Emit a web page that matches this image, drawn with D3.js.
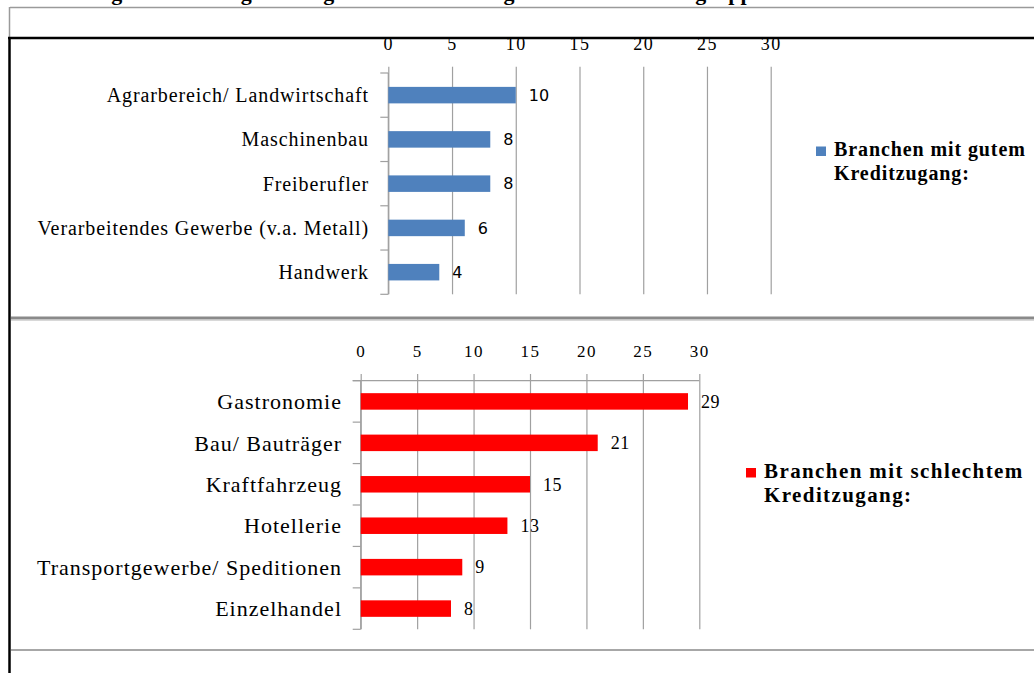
<!DOCTYPE html>
<html>
<head>
<meta charset="utf-8">
<script src="https://cdn.jsdelivr.net/npm/d3@7"></script>
<style>
  body { margin: 0; background: #fff; }
  svg { display: block; }
  .cat { font-family: "Liberation Serif", "Times New Roman", serif; fill: #000; }
  .legend text { font-family: "Liberation Serif", "Times New Roman", serif; font-weight: bold; fill: #000; }
</style>
</head>
<body>
<div id="chart"></div>
<script>
// data
var goodCats = ["Agrarbereich/ Landwirtschaft", "Maschinenbau", "Freiberufler",
                "Verarbeitendes Gewerbe (v.a. Metall)", "Handwerk"];
var goodVals = [10, 8, 8, 6, 4];

var badCats = ["Gastronomie", "Bau/ Bauträger", "Kraftfahrzeug", "Hotellerie",
               "Transportgewerbe/ Speditionen", "Einzelhandel"];
var badVals = [29, 21, 15, 13, 9, 8];

var xTicks = [0, 5, 10, 15, 20, 25, 30];

var legendGood = ["Branchen mit gutem", "Kreditzugang:"];
var legendBad = ["Branchen mit schlechtem", "Kreditzugang:"];

// caption above the frame, only its lower edge is in view
var caption = "Abbildung 3: Erfahrungen bezüglich der Kreditvergabe nach Branchengruppen aus Sicht der Interviewten";

var width = 1034, height = 673;

var svg = d3.select("#chart").append("svg")
    .attr("width", width)
    .attr("height", height);

svg.append("rect").attr("width", width).attr("height", height).attr("fill", "#fff");

// caption, cut off at the top edge like in the scan
svg.append("text")
    .attr("x", 22)
    .attr("y", -0.5)
    .attr("font-family", "Liberation Serif, serif")
    .attr("font-weight", "bold")
    .attr("font-size", 22)
    .text(caption);

// frame lines (table borders)
svg.append("line").attr("x1", 10).attr("x2", width).attr("y1", 7.5).attr("y2", 7.5)
    .attr("stroke", "#9a9a9a").attr("stroke-width", 1.5);
svg.append("line").attr("x1", 9.5).attr("x2", 9.5).attr("y1", 7).attr("y2", 38)
    .attr("stroke", "#9a9a9a").attr("stroke-width", 1.5);
svg.append("line").attr("x1", 8).attr("x2", width).attr("y1", 38).attr("y2", 38)
    .attr("stroke", "#000").attr("stroke-width", 2.5);
svg.append("line").attr("x1", 9.5).attr("x2", 9.5).attr("y1", 37).attr("y2", height)
    .attr("stroke", "#000").attr("stroke-width", 2.5);
svg.append("line").attr("x1", 11).attr("x2", width).attr("y1", 318).attr("y2", 318)
    .attr("stroke", "#8a8a8a").attr("stroke-width", 3);
svg.append("line").attr("x1", 11).attr("x2", width).attr("y1", 320.5).attr("y2", 320.5)
    .attr("stroke", "#d8d8d8").attr("stroke-width", 1);
svg.append("line").attr("x1", 11).attr("x2", width).attr("y1", 650).attr("y2", 650)
    .attr("stroke", "#8a8a8a").attr("stroke-width", 1.5);

function drawChart(o) {
  var g = svg.append("g");

  var x = d3.scaleLinear().domain([0, 30]).range([o.x0, o.x1]);
  var y = d3.scaleBand().domain(o.cats).range([o.top, o.bottom]);

  // vertical gridlines
  var grid = g.append("g")
      .attr("transform", "translate(0," + o.gridTop + ")")
      .call(d3.axisBottom(x).tickValues(xTicks).tickSize(o.bottom - o.gridTop).tickFormat(""));
  grid.select(".domain").remove();
  grid.selectAll("line").attr("stroke", "#a0a0a0").attr("stroke-width", 1.2);

  // top axis line (only in the lower chart)
  if (o.topLine) {
    g.append("line")
        .attr("x1", o.x0 - 8).attr("x2", o.x1)
        .attr("y1", o.top).attr("y2", o.top)
        .attr("stroke", "#a0a0a0").attr("stroke-width", 1.2);
  }

  // value tick labels above
  var ax = g.append("g")
      .attr("transform", "translate(0," + o.tickY + ")")
      .call(d3.axisTop(x).tickValues(xTicks).tickSize(0).tickPadding(0));
  ax.select(".domain").remove();
  ax.selectAll("text")
      .attr("y", 0)
      .attr("dy", "0.35em")
      .attr("font-family", "Liberation Serif, serif")
      .attr("font-size", o.tickSize)
      .attr("letter-spacing", 1.5)
      .attr("fill", "#000");

  // category axis line with ticks at band edges
  g.append("line")
      .attr("x1", o.x0).attr("x2", o.x0)
      .attr("y1", o.top).attr("y2", o.bottom)
      .attr("stroke", "#a0a0a0").attr("stroke-width", 1.2);
  g.selectAll(".ctick")
      .data(d3.range(o.cats.length + 1))
      .enter().append("line")
      .attr("x1", o.x0 - 8).attr("x2", o.x0)
      .attr("y1", function(i) { return o.top + i * y.step(); })
      .attr("y2", function(i) { return o.top + i * y.step(); })
      .attr("stroke", "#a0a0a0").attr("stroke-width", 1.2);

  // bars
  g.selectAll(".bar")
      .data(o.vals)
      .enter().append("rect")
      .attr("x", x(0))
      .attr("y", function(d, i) { return y(o.cats[i]) + y.bandwidth() / 2 - o.barH / 2; })
      .attr("width", function(d) { return x(d) - x(0); })
      .attr("height", o.barH)
      .attr("fill", o.color);

  // value labels
  g.selectAll(".val")
      .data(o.vals)
      .enter().append("text")
      .attr("x", function(d) { return x(d) + 13; })
      .attr("y", function(d, i) { return y(o.cats[i]) + y.bandwidth() / 2; })
      .attr("dy", "0.35em")
      .attr("font-family", o.valFont)
      .attr("font-size", o.valSize)
      .attr("letter-spacing", o.valSpacing)
      .attr("fill", "#000")
      .text(function(d) { return d; });

  // category labels
  g.selectAll(".cat")
      .data(o.cats)
      .enter().append("text")
      .attr("class", "cat")
      .attr("x", o.labelX)
      .attr("y", function(d) { return y(d) + y.bandwidth() / 2; })
      .attr("dy", "0.35em")
      .attr("text-anchor", "end")
      .attr("font-size", o.catSize)
      .attr("letter-spacing", o.catSpacing)
      .text(function(d) { return d; });

  // legend
  var lg = g.append("g").attr("class", "legend");
  lg.append("rect")
      .attr("x", o.legX).attr("y", o.legY - 9.5)
      .attr("width", 10).attr("height", 9.5)
      .attr("fill", o.color);
  lg.selectAll("text")
      .data(o.legend)
      .enter().append("text")
      .attr("x", o.legX + 18)
      .attr("y", function(d, i) { return o.legY + i * 24; })
      .attr("font-size", o.legSize)
      .attr("letter-spacing", o.legSpacing)
      .text(function(d) { return d; });
}

drawChart({
  cats: goodCats, vals: goodVals, color: "#4f81bd",
  x0: 388.3, x1: 770.7, top: 73, bottom: 294.3, gridTop: 66.7,
  tickY: 44, tickSize: 18, barH: 16.5,
  valFont: "DejaVu Sans, sans-serif", valSize: 16, valSpacing: 0,
  labelX: 369, catSize: 20, catSpacing: 0.9,
  legX: 816, legY: 156, legend: legendGood, legSize: 20, legSpacing: 0.9
});

drawChart({
  cats: badCats, vals: badVals, color: "#ff0000",
  x0: 360.7, x1: 699.3, top: 380.7, bottom: 629.3, gridTop: 374, topLine: true,
  tickY: 351, tickSize: 17, barH: 16.5,
  valFont: "Liberation Serif, serif", valSize: 18, valSpacing: 0.5,
  labelX: 342, catSize: 22, catSpacing: 1.0,
  legX: 746, legY: 477.5, legend: legendBad, legSize: 21, legSpacing: 1.4
});
</script>
</body>
</html>
